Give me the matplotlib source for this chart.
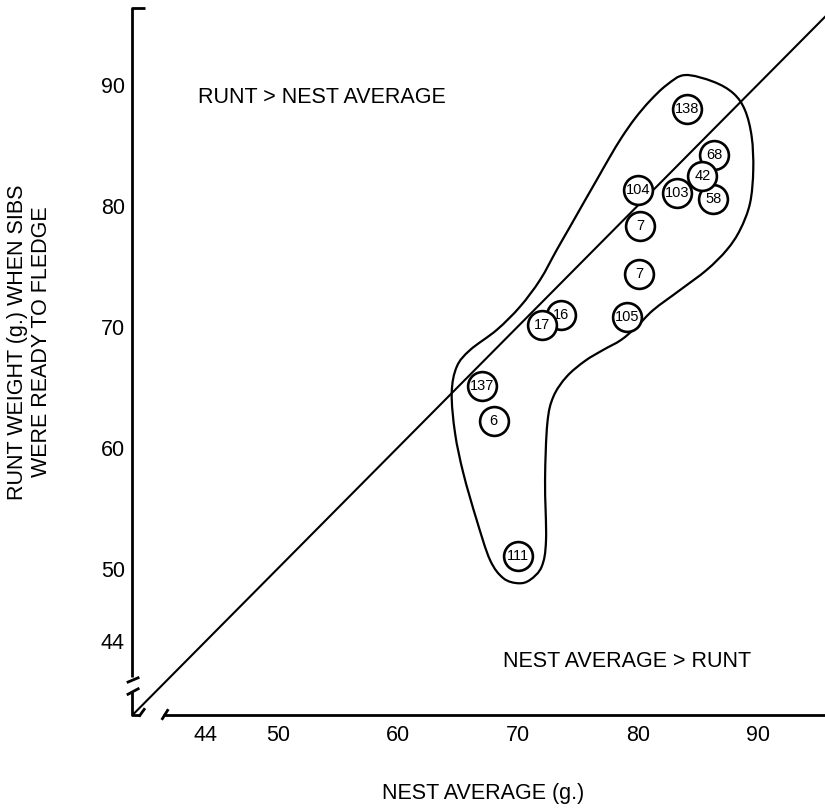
import numpy as np
import matplotlib
matplotlib.use("Agg")
import matplotlib.pyplot as plt
from matplotlib.path import Path
from matplotlib.patches import PathPatch

plt.rcParams['font.family'] = ['Liberation Sans', 'DejaVu Sans']

# nests: nest average (g.) vs runt weight (g.)
bird_id = ['138', '68', '58', '42', '103', '104', '7', '7', '105', '16', '17', '137', '6', '111']
nest_avg = [84.1, 86.4, 86.3, 85.4, 83.3, 80.0, 80.2, 80.1, 79.1, 73.6, 72.0, 67.0, 68.0, 70.0]
runt_wt = [88.0, 84.2, 80.55, 82.45, 81.05, 81.3, 78.3, 74.35, 70.8, 71.0, 70.15, 65.1, 62.2, 51.05]

# hand drawn outline around the points
outline_x = [83.94, 86.30, 87.97, 88.94, 89.50, 89.63, 89.36, 88.53, 87.42, 85.75, 83.53,
             81.30, 79.92, 78.61, 77.11, 75.61, 74.08, 72.97, 72.47, 72.28, 72.36, 72.00,
             71.03, 70.05, 68.80, 67.69, 66.58, 65.47, 64.78, 64.50, 64.92, 66.03, 68.25,
             70.19, 71.86, 73.25, 74.36, 75.47, 76.58, 77.69, 78.67, 79.78, 81.03, 82.42]
outline_y = [90.80, 90.25, 89.29, 87.90, 85.70, 82.95, 80.20, 78.00, 76.34, 74.69, 73.03,
             71.38, 70.00, 68.90, 68.07, 67.17, 65.87, 64.21, 62.02, 57.33, 52.37, 50.17,
             49.07, 48.79, 49.21, 50.72, 54.02, 57.88, 61.19, 64.50, 66.69, 68.07, 69.73,
             71.65, 73.86, 76.34, 78.26, 80.20, 82.12, 84.05, 85.65, 87.22, 88.68, 89.98]

x_ticks = [44, 50, 60, 70, 80, 90]
y_ticks = [44, 50, 60, 70, 80, 90]

fig = plt.figure(figsize=(8.25, 8.09), dpi=100)
ax = fig.add_axes([0.16036, 0.11619, 0.83964, 0.87763])
ax.set_xlim(37.88, 95.61)
ax.set_ylim(37.9, 96.59)
for s in ax.spines.values():
    s.set_visible(False)

ax.set_xticks(x_ticks)
ax.set_xticklabels([str(t) for t in x_ticks])
ax.set_yticks(y_ticks)
ax.set_yticklabels([str(t) for t in y_ticks])
ax.tick_params(axis='x', length=0, pad=7.4, labelsize=15.5)
ax.tick_params(axis='y', length=0, pad=5.3, labelsize=15.5)

# axis lines with breaks
k = dict(color='k', lw=2.0, clip_on=False, solid_capstyle='butt')
ax.plot([38.94, 37.88, 37.88], [96.34, 96.34, 41.07], **k)
ax.plot([37.42, 38.47], [40.58, 41.02], **k)
ax.plot([37.42, 38.47], [39.56, 40.12], **k)
ax.plot([37.88, 37.88, 38.52], [39.83, 37.9, 37.9], **k)
ax.plot([38.44, 38.94], [37.77, 38.46], **k)
ax.plot([40.33, 40.88], [37.5, 38.38], **k)
ax.plot([40.47, 95.61], [37.9, 37.9], **k)

# equality line
ax.axline((50, 50), slope=1, color='k', lw=1.5, zorder=2)

# outline (smooth closed curve through the traced points)
pts = np.column_stack([outline_x, outline_y])
n = len(pts)
verts = [pts[0]]
codes = [Path.MOVETO]
for i in range(n):
    p0, p1, p2, p3 = pts[i - 1], pts[i], pts[(i + 1) % n], pts[(i + 2) % n]
    verts += [p1 + (p2 - p0) / 6, p2 - (p3 - p1) / 6, p2]
    codes += [Path.CURVE4] * 3
ax.add_patch(PathPatch(Path(verts, codes), fill=False, lw=1.6, ec='k', zorder=2))

# circled nest numbers
ax.scatter(nest_avg, runt_wt, s=430, facecolor='white', edgecolor='k', linewidths=1.9, zorder=3)
for xi, yi, lab in zip(nest_avg, runt_wt, bird_id):
    ax.text(xi, yi, lab, ha='center', va='center', fontsize=10.5, zorder=4)

ax.text(43.38, 88.96, 'RUNT > NEST AVERAGE', fontsize=15.5, ha='left', va='center')
ax.text(68.8, 42.31, 'NEST AVERAGE > RUNT', fontsize=15.5, ha='left', va='center')

fig.text(483 / 825, 1 - 793 / 809, 'NEST AVERAGE (g.)', fontsize=15.5, ha='center', va='center')
fig.text(29.5 / 825, 1 - 342 / 809, 'RUNT WEIGHT (g.) WHEN SIBS\nWERE READY TO FLEDGE',
         fontsize=15.5, ha='center', va='center', rotation=90, multialignment='center',
         linespacing=1.15)

fig.savefig('out.png', dpi=100)
